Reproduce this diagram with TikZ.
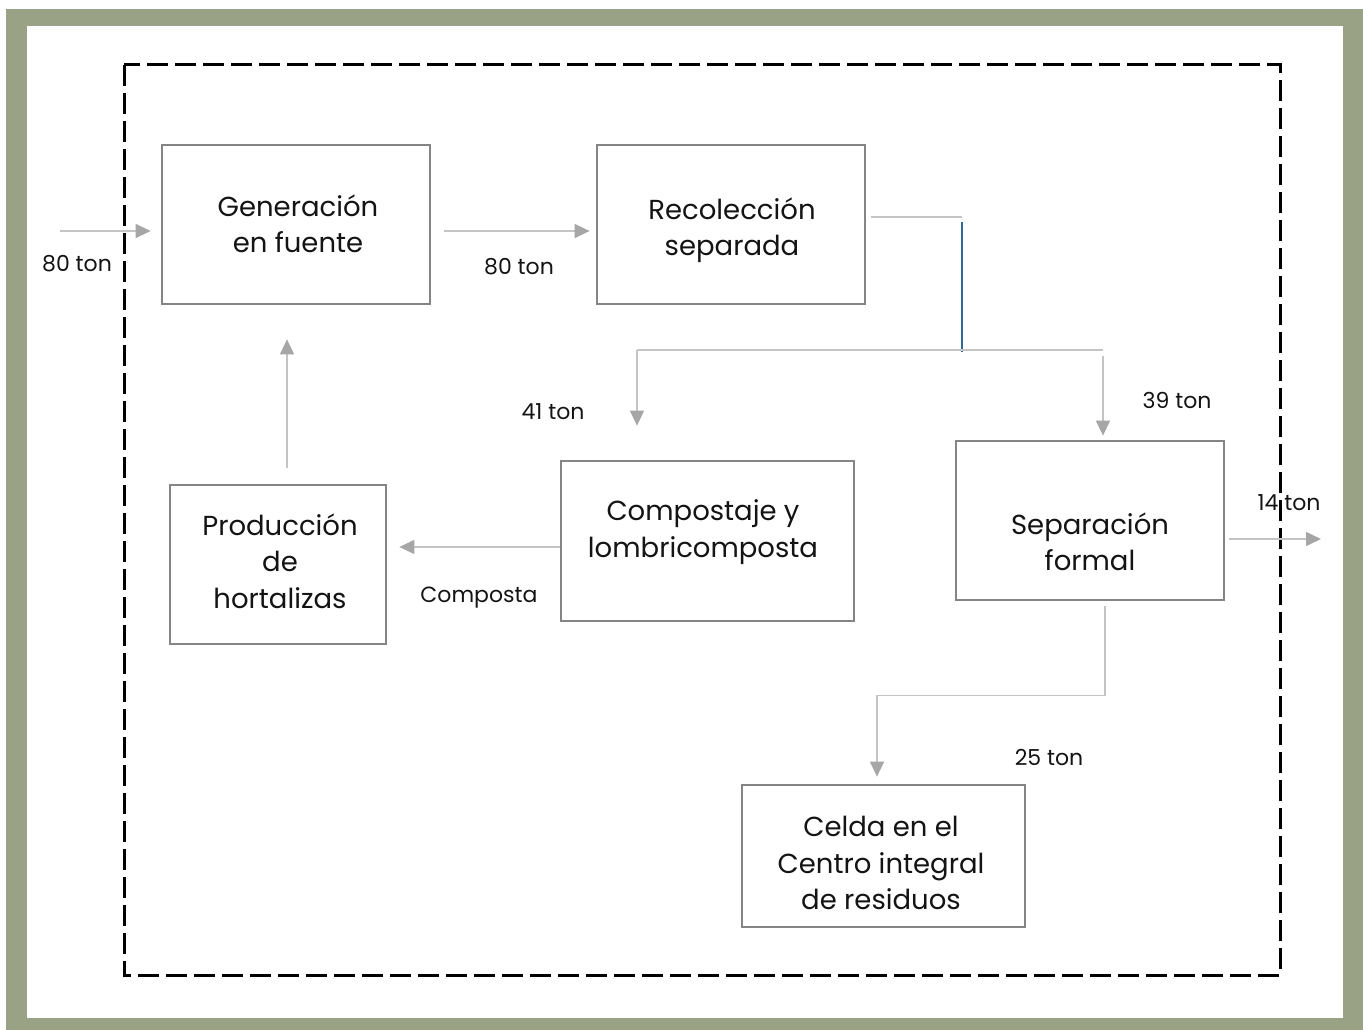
\documentclass[tikz,border=0pt]{standalone}
\usepackage{fontspec}
\setmainfont{Poppins}
\usetikzlibrary{arrows.meta,calc}
\definecolor{frame}{HTML}{99A285}
\definecolor{boxline}{HTML}{858585}
\definecolor{conn}{HTML}{C4C4C4}
\definecolor{tipc}{HTML}{A6A6A6}
\definecolor{bluel}{HTML}{2F6B94}
\definecolor{txt}{HTML}{141414}
\tikzset{
  stepbox/.style={draw=boxline, line width=2.8pt, minimum width=#1, inner sep=0pt},
  boxtext/.style={font=\fontsize{27.5}{36.5}\selectfont, text=txt, align=center},
  lbl/.style={font=\fontsize{22}{24}\selectfont, text=txt},
  flow/.style={draw=conn, line width=1.5pt, -{Triangle[length=15pt,width=14pt,color=tipc]}},
  plain/.style={draw=conn, line width=1.5pt},
}
\begin{document}
\begin{tikzpicture}[x=1pt,y=-1pt]
\useasboundingbox (0,0) rectangle (1363,1030);
\fill[frame] (6,9) rectangle (1363,1030);
\fill[white] (27,26) rectangle (1343,1018);
\draw[line width=3pt, dash pattern=on 21pt off 7pt] (124,65) rectangle (1280,975);

\node[stepbox=268pt, minimum height=159pt] (gen) at (296,224.5) {};
\node[stepbox=268pt, minimum height=159pt] (rec) at (731,224.5) {};
\node[stepbox=293pt, minimum height=160pt] (comp) at (707.5,541) {};
\node[stepbox=268pt, minimum height=159pt] (sep) at (1090,520.5) {};
\node[stepbox=216pt, minimum height=159pt] (prod) at (278,564.5) {};
\node[stepbox=283pt, minimum height=142pt] (celda) at (883.5,856) {};

\node[boxtext] (tgen) at (298,224) {Generación\\en fuente};
\node[boxtext] (trec) at (732,230) {Recolección\\separada};
\node[boxtext] (tcomp) at (703,532) {Compostaje y\\lombricomposta};
\node[boxtext] (tsep) at (1090,542) {Separación\\formal};
\node[boxtext] (tprod) at (280,561) {Producción\\de\\hortalizas};
\node[boxtext] (tcelda) at (881,863) {Celda en el\\Centro integral\\de residuos};

\coordinate (in0) at (60,231);
\coordinate (j0) at (962,217);
\coordinate (j1) at (962,222);
\coordinate (j2) at (962,352);
\coordinate (hl) at (637,350);
\coordinate (hr) at (1103,350);
\coordinate (hr2) at (1103,356);
\coordinate (out) at (1321,539);

\draw[flow] (in0) -- ($(gen.west)+(-10,6.5)$);
\draw[flow] ($(gen.east)+(13,6.5)$) -- ($(rec.west)+(-6,6.5)$);
\draw[plain] ($(rec.east)+(5,-7.5)$) -- (j0);
\draw[bluel, line width=1.3pt] (j1) -- (j2);
\draw[plain] (hl) -- (hr);
\draw[flow] (hl) -- ($(comp.north)+(-70.5,-34)$);
\draw[flow] (hr2) -- ($(sep.north)+(13,-4)$);
\draw[flow] ($(sep.east)+(4,18.5)$) -- (out);
\draw[flow] ($(comp.west)+(0,6)$) -- ($(prod.east)+(12,-17.5)$);
\draw[flow] ($(prod.north)+(9,-16)$) -- ($(gen.south)+(-9,34)$);
\draw[flow] ($(sep.south)+(15,5)$) -- ++(0,89) -| ($(celda.north)+(-6.5,-7)$);

\node[lbl] (l1) at (77,264) {80 ton};
\node[lbl] (l2) at (519,267) {80 ton};
\node[lbl] (l3) at (553,412) {41 ton};
\node[lbl] (l4) at (1177,400) {39 ton};
\node[lbl] (l5) at (1289,503) {14 ton};
\node[lbl] (l6) at (479,598) {Composta};
\node[lbl] (l7) at (1049,757) {25 ton};
\end{tikzpicture}
\end{document}
